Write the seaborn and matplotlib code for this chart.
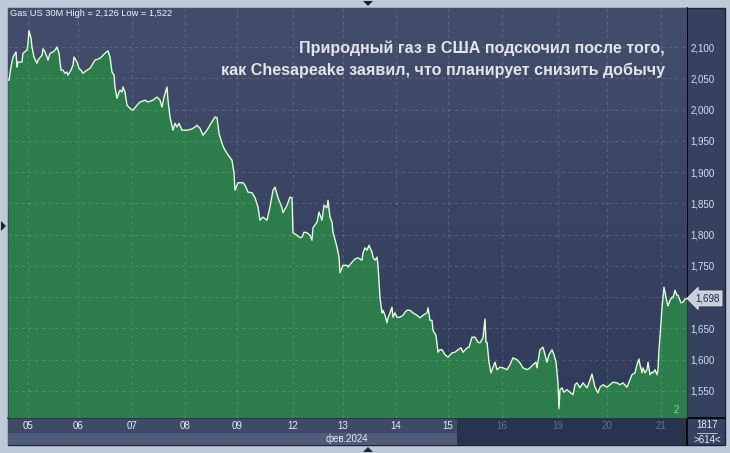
import numpy as np
import pandas as pd
import matplotlib
matplotlib.use('Agg')
import matplotlib.pyplot as plt
import matplotlib.transforms as mtransforms
from matplotlib.colors import LinearSegmentedColormap
from matplotlib.patches import Rectangle, Polygon
import seaborn as sns

# ---- data (30-minute bars) ----
SLOT = [0, 1, 3, 5, 8, 9, 10, 14, 15, 19, 20, 21, 23, 24, 26, 29, 30, 34, 35, 37,
        39, 40, 42, 45, 47, 49, 51, 53, 55, 57, 59, 60, 63, 65, 66, 69, 71, 73, 75, 79,
        82, 87, 92, 97, 100, 102, 104, 106, 107, 109, 110, 112, 114, 115, 117, 119, 122, 125, 129, 132,
        137, 140, 145, 149, 152, 154, 156, 159, 160, 162, 165, 167, 169, 171, 174, 179, 184, 187, 189, 192,
        195, 199, 203, 207, 209, 211, 214, 216, 219, 222,
        224, 226, 227, 230, 235, 237, 240, 244, 247, 250, 252, 255, 259, 262, 265, 267, 270, 274, 275, 279,
        282, 284, 285, 289, 292, 294, 296, 299, 302, 304, 305, 309, 311, 314, 316, 319, 320, 322, 324, 325,
        329, 331, 332, 335, 339, 340, 344, 347, 350, 354, 355, 357, 359, 361, 364, 365, 367, 369, 370, 372,
        374, 375, 377, 379, 380, 382, 384, 385, 387, 389, 392, 395, 397, 399, 402, 405, 409, 412, 415, 419,
        420, 422,
        424, 425, 428, 430, 432, 434, 437, 440, 444, 447, 450, 453, 455, 459, 461, 464, 467, 470, 472, 475,
        477, 478, 479, 481, 483, 485, 487, 489, 492, 495, 499, 502, 505, 509, 512, 515, 519, 522, 525, 528,
        529, 532, 535, 537, 539, 541, 544, 546, 548, 550, 551, 552, 554, 556, 559, 562, 565, 567, 569, 572,
        575, 579, 581, 584, 587, 590, 592, 595, 599, 602, 605, 609, 612, 615, 619, 620, 624, 627, 629, 631,
        632, 634, 635, 637, 639, 640, 642, 644, 645, 647, 649, 650, 651, 653, 654, 655, 656, 658, 659, 660,
        662, 664, 665, 667, 669, 670, 672, 673, 675, 677, 679]

PRICE = [2.047, 2.047, 2.068, 2.084, 2.092, 2.068, 2.076, 2.076, 2.090, 2.095,
         2.106, 2.126, 2.114, 2.100, 2.084, 2.074, 2.079, 2.087, 2.097, 2.092,
         2.084, 2.079, 2.090, 2.092, 2.095, 2.100, 2.090, 2.063, 2.063, 2.058,
         2.060, 2.055, 2.063, 2.071, 2.084, 2.076, 2.066, 2.063, 2.058, 2.063,
         2.066, 2.079, 2.082, 2.090, 2.094, 2.084, 2.060, 2.055, 2.036, 2.018,
         2.023, 2.031, 2.028, 2.036, 2.028, 2.007, 2.002, 1.999, 2.007, 2.012,
         2.015, 2.012, 2.015, 2.020, 2.015, 2.004, 2.020, 2.036, 2.015, 1.988,
         1.967, 1.978, 1.972, 1.978, 1.967, 1.967, 1.969, 1.972, 1.975, 1.970,
         1.959, 1.967, 1.978, 1.988, 1.987, 1.962, 1.946, 1.938, 1.930, 1.923,
         1.919, 1.899, 1.871, 1.883, 1.883, 1.879, 1.868, 1.867, 1.859, 1.844,
         1.823, 1.828, 1.823, 1.844, 1.871, 1.876, 1.859, 1.843, 1.835, 1.847,
         1.860, 1.859, 1.803, 1.799, 1.795, 1.796, 1.804, 1.803, 1.799, 1.791,
         1.811, 1.820, 1.836, 1.823, 1.847, 1.843, 1.855, 1.828, 1.820, 1.804,
         1.780, 1.764, 1.739, 1.751, 1.751, 1.748, 1.756, 1.761, 1.763, 1.759,
         1.771, 1.779, 1.775, 1.783, 1.772, 1.764, 1.759, 1.764, 1.751, 1.699,
         1.675, 1.679, 1.671, 1.659, 1.667, 1.675, 1.684, 1.668, 1.675, 1.668,
         1.668, 1.671, 1.676, 1.679, 1.679, 1.675, 1.671, 1.667, 1.671, 1.675,
         1.683, 1.663,
         1.663, 1.647, 1.639, 1.612, 1.616, 1.616, 1.608, 1.604, 1.611, 1.612,
         1.616, 1.619, 1.612, 1.619, 1.620, 1.636, 1.636, 1.628, 1.627, 1.635,
         1.665, 1.628, 1.628, 1.596, 1.579, 1.588, 1.596, 1.584, 1.588, 1.587,
         1.584, 1.592, 1.603, 1.600, 1.595, 1.587, 1.584, 1.587, 1.592, 1.596,
         1.587, 1.616, 1.620, 1.608, 1.596, 1.608, 1.616, 1.608, 1.596, 1.563,
         1.522, 1.552, 1.555, 1.548, 1.552, 1.548, 1.544, 1.560, 1.563, 1.555,
         1.563, 1.555, 1.563, 1.577, 1.556, 1.547, 1.556, 1.560, 1.556, 1.560,
         1.564, 1.563, 1.560, 1.563, 1.556, 1.560, 1.576, 1.579, 1.592, 1.601,
         1.592, 1.579, 1.587, 1.579, 1.584, 1.596, 1.576, 1.580, 1.579, 1.584,
         1.576, 1.584, 1.616, 1.659, 1.684, 1.699, 1.716, 1.700, 1.692, 1.686,
         1.695, 1.700, 1.699, 1.711, 1.703, 1.703, 1.695, 1.691, 1.692, 1.697,
         1.698]

assert len(SLOT) == len(PRICE)

DAY_SLOT = [20, 70, 124, 177, 229, 285, 335, 388, 440, 494, 550, 599, 653]
DAY_LABEL = ['05', '06', '07', '08', '09', '12', '13', '14', '15', '16', '19', '20', '21']
N_ACTIVE_DAYS = 9   # 05..15 drawn bright, later days greyed
Y_TICKS = [1.55, 1.60, 1.65, 1.70, 1.75, 1.80, 1.85, 1.90, 1.95, 2.00, 2.05, 2.10]
Y_LIM = (1.5068, 2.1624)
X_LIM = (0, 679)
LAST_PRICE = 1.698
HIGH, LOW = 2.126, 1.522
MONTH_LABEL = 'фев.2024'
TITLE = 'Gas US 30M High = {} Low = {}'
HEADLINE = ('Природный газ в США подскочил после того,\n'
            'как Chesapeake заявил, что планирует снизить добычу')


def fmt(v):
    return f'{v:.3f}'.replace('.', ',')


sns.set_style('dark')
plt.rcParams['font.family'] = ['Liberation Sans', 'DejaVu Sans']

W, H = 730, 453
fig = plt.figure(figsize=(W / 100, H / 100), dpi=100)
fig.patch.set_facecolor('#bfcad9')

# ---- frame / panels in pixel coordinates ----
bg = fig.add_axes([0, 0, 1, 1], zorder=0)
bg.set_xlim(0, W)
bg.set_ylim(H, 0)
bg.axis('off')
bg.add_patch(Rectangle((8, 8), 717, 437, fc='#36415f', ec='#1c2438', lw=1))
bg.add_patch(Rectangle((8, 418), 449, 15, fc='#3e4a67', lw=0))
bg.add_patch(Rectangle((8, 433), 449, 12, fc='#4f5c79', lw=0))
bg.add_patch(Rectangle((457, 418), 230, 27, fc='#283350', lw=0))
bg.plot([687, 687], [8, 445], color='black', lw=1.2)
bg.plot([8, 725], [418, 418], color='black', lw=1.2)
bg.plot([697, 717], [432.5, 432.5], color='#c8d0e0', lw=0.6)
bg.text(707, 425.5, '1817', ha='center', va='center', fontsize=7, color='#e8edf5')
bg.text(707, 440, '>614<', ha='center', va='center', fontsize=7, color='#e8edf5')
bg.text(347, 439, MONTH_LABEL, ha='center', va='center', fontsize=7, color='#e8edf5')
tri = '#1b2436'
bg.add_patch(Polygon([[363, 1], [373, 1], [368, 6]], fc=tri, lw=0))
bg.add_patch(Polygon([[363, 452], [373, 452], [368, 447]], fc=tri, lw=0))
bg.add_patch(Polygon([[1, 221], [1, 231], [6, 226]], fc=tri, lw=0))

# ---- main price axes ----
ax = fig.add_axes([8 / W, (H - 418) / H, (687 - 8) / W, (418 - 8) / H], zorder=2)
cmap = LinearSegmentedColormap.from_list('bgc', ['#303b5b', '#434e6c'])
grad = np.linspace(0, 1, 256)[:, None]
ax.imshow(grad, extent=[0, 1, 0, 1], transform=ax.transAxes, cmap=cmap,
          aspect='auto', origin='lower', zorder=0)

df = pd.DataFrame({'slot': SLOT, 'price': PRICE})
ax.fill_between(df['slot'], df['price'], Y_LIM[0],
                color='#2c7d4b', lw=0, zorder=1)
sns.lineplot(data=df, x='slot', y='price', ax=ax, estimator=None,
             color='#e4fbde', lw=1, zorder=3)

ax.set_xlim(*X_LIM)
ax.set_ylim(*Y_LIM)
ax.set_xticks(DAY_SLOT)
ax.set_xticklabels(DAY_LABEL)
ax.set_yticks(Y_TICKS)
# the 1,700 label sits under the last-price tag
ax.set_yticklabels(['' if abs(v - LAST_PRICE) < 0.01 else fmt(v) for v in Y_TICKS])
ax.yaxis.tick_right()
ax.set_xlabel('')
ax.set_ylabel('')
ax.grid(True, color='white', alpha=0.14, ls=(0, (3, 3)), lw=0.8)
ax.set_axisbelow(False)
for gl in ax.get_xgridlines() + ax.get_ygridlines():
    gl.set_zorder(2)
ax.tick_params(axis='y', length=0, pad=2.5, labelsize=7, labelcolor='#d6deee')
ax.tick_params(axis='x', length=0, pad=2.5, labelsize=7)
for i, lab in enumerate(ax.get_xticklabels()):
    lab.set_color('#e6ecf5' if i < N_ACTIVE_DAYS else '#66708c')
for s in ax.spines.values():
    s.set_visible(False)

# last price tag
tr = mtransforms.blended_transform_factory(ax.transAxes, ax.transData)
ax.text(1.012, LAST_PRICE, fmt(LAST_PRICE), transform=tr, ha='left', va='center',
        fontsize=7, color='#1c2848', clip_on=False, zorder=5,
        bbox=dict(boxstyle='larrow,pad=0.25', fc='#c9ced8', ec='#eef0f4', lw=0.6))

ax.text(668, Y_LIM[0] + 0.004, '2', ha='center', va='bottom', fontsize=7,
        color='#86d894', zorder=5)

ax.text((665 - 8) / 679, 1 - (59.5 - 8) / 410, HEADLINE, transform=ax.transAxes,
        ha='right', va='center', multialignment='right', fontsize=11.6,
        fontweight='bold', linespacing=1.5, color='#e4e4e8', zorder=6)

fig.text(10 / W, 1 - 13 / H, TITLE.format(fmt(HIGH), fmt(LOW)), ha='left', va='center',
         fontsize=6.7, color='#f2f4f8', zorder=6)

fig.savefig('out.png', dpi=100, facecolor=fig.get_facecolor())
